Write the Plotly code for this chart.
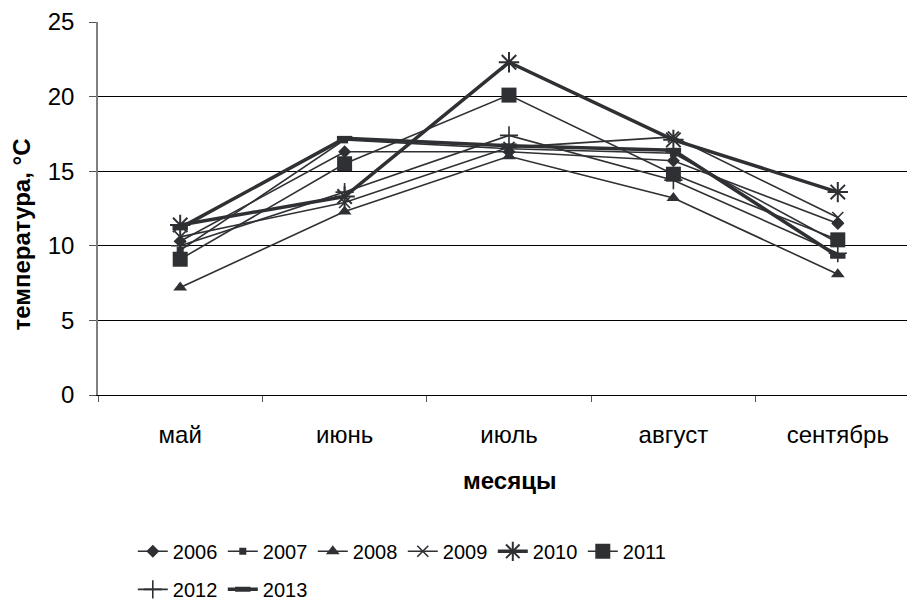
import plotly.graph_objects as go

months = ["май", "июнь", "июль", "август", "сентябрь"]

t2006 = [10.3, 16.3, 16.3, 15.7, 11.5]
t2007 = [9.7, 17.1, 16.5, 16.2, 10.2]
t2008 = [7.2, 12.3, 16.0, 13.2, 8.1]
t2009 = [10.6, 12.9, 16.6, 17.3, 11.9]
t2010 = [11.4, 13.3, 22.3, 17.1, 13.6]
t2011 = [9.1, 15.5, 20.1, 14.8, 10.4]
t2012 = [10.0, 13.6, 17.4, 14.4, 9.5]
t2013 = [11.2, 17.2, 16.7, 16.4, 9.3]

INK = "#2e3033"
FONT = "Liberation Sans, Arial, sans-serif"

# (name, values, line width, marker, legend row)
series = [
    ("2006", t2006, 1.6, dict(symbol="diamond", size=10), "legend"),
    ("2007", t2007, 1.6, dict(symbol="square", size=7), "legend"),
    ("2008", t2008, 1.6, dict(symbol="triangle-up", size=12), "legend"),
    ("2009", t2009, 1.6, dict(symbol="x-thin-open", size=11, line=dict(width=1.6, color=INK)), "legend"),
    ("2010", t2010, 3.5, dict(symbol="asterisk-open", size=17, line=dict(width=2, color=INK)), "legend"),
    ("2011", t2011, 1.6, dict(symbol="square", size=15), "legend"),
    ("2012", t2012, 1.6, dict(symbol="cross-thin-open", size=13, line=dict(width=1.6, color=INK)), "legend2"),
    ("2013", t2013, 3.5, dict(symbol="line-ew-open", size=11, line=dict(width=5, color=INK)), "legend2"),
]

fig = go.Figure()
for name, vals, lw, mk, lg in series:
    mk = dict(mk)
    mk["color"] = INK
    fig.add_trace(go.Scatter(
        x=months, y=vals, name=name, mode="lines+markers",
        line=dict(color=INK, width=lw), marker=mk, legend=lg,
    ))

legend_common = dict(
    orientation="h", xanchor="left", yanchor="middle",
    font=dict(family=FONT, size=20, color="black"), itemwidth=30,
    entrywidth=45, entrywidthmode="pixels",
    tracegroupgap=0, bgcolor="rgba(0,0,0,0)", borderwidth=0,
)

fig.update_layout(
    width=907, height=600,
    paper_bgcolor="white", plot_bgcolor="white",
    margin=dict(l=98, r=0, t=22, b=205, autoexpand=False),
    font=dict(family=FONT, size=24, color="black"),
    showlegend=True,
    legend=dict(legend_common, x=0.043, y=-0.419),
    legend2=dict(legend_common, x=0.043, y=-0.521),
    xaxis=dict(
        type="category", range=[-0.5, 4.421], showgrid=False,
        showline=True, linecolor="black", linewidth=1,
        ticks="outside", tickson="boundaries", ticklen=6, tickcolor="#555",
        tickfont=dict(size=24), ticklabelstandoff=18, zeroline=False,
    ),
    yaxis=dict(
        range=[0, 25], dtick=5, showgrid=True, gridcolor="black", gridwidth=1,
        showline=True, linecolor="#808080", linewidth=1.5,
        ticks="outside", ticklen=7, tickcolor="#555",
        tickfont=dict(size=24), ticklabelstandoff=10, zeroline=False,
    ),
    annotations=[
        dict(text="<b>месяцы</b>", xref="paper", yref="paper", x=0.509, y=-0.228,
             xanchor="center", yanchor="middle", showarrow=False, font=dict(size=24)),
        dict(text="<b>температура, °С</b>", xref="paper", yref="paper", x=-0.094, y=0.43,
             xanchor="center", yanchor="middle", showarrow=False, textangle=-90,
             font=dict(size=24)),
    ],
)

fig.write_html("out.html")
